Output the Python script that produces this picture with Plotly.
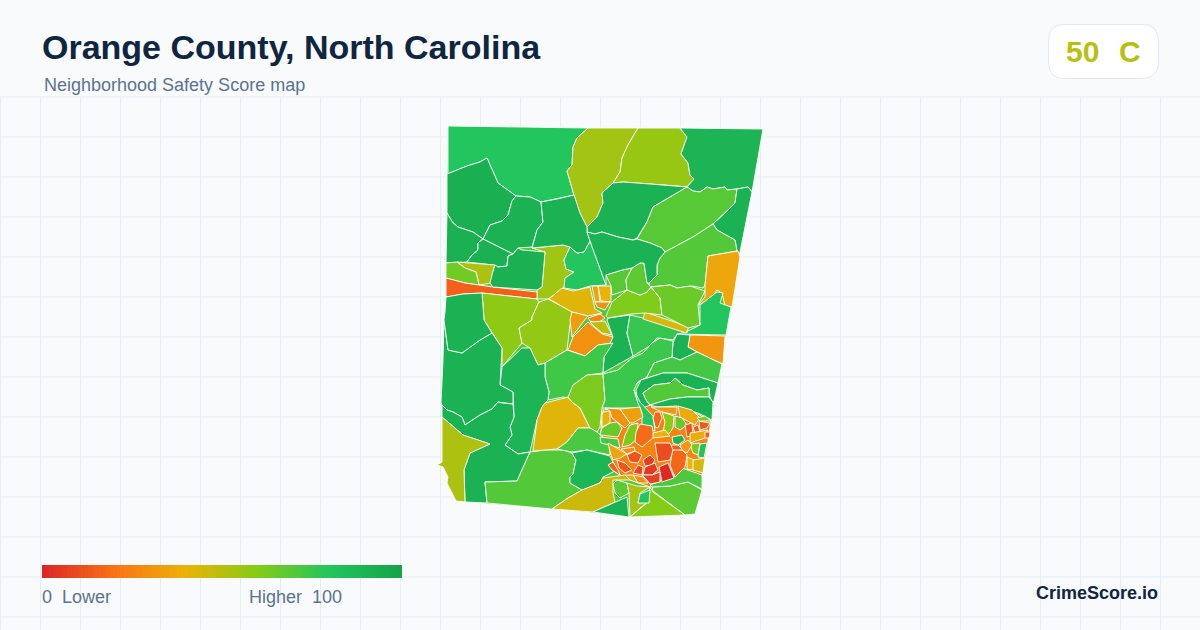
import plotly.graph_objects as go
from plotly.colors import sample_colorscale

TITLE = "Orange County, North Carolina"
SUBTITLE = "Neighborhood Safety Score map"
COUNTY_SCORE = 50
COUNTY_GRADE = "C"

SCALE_COLORS = ["#dc2626", "#f97316", "#eab308", "#84cc16", "#22c55e", "#16a34a"]
LEGEND_SCORES = list(range(0, 101))

# map units are the picture's own grid, y running down
COUNTY_OUTLINE = [
    (448, 126), (588, 128), (680, 128), (763, 129), (752, 192), (739, 257), (732, 307), (726, 336),
    (722, 364), (717, 383), (712, 420), (705, 460), (702, 475), (695, 514), (685, 515), (630, 517),
    (593, 513), (552, 509), (487, 504), (465, 502), (456, 501), (447, 483), (448, 477), (443, 467),
    (437, 465), (442, 462), (442, 417), (441, 402), (443, 360), (444, 320), (445, 312), (446, 278),
    (446, 263), (447, 213), (447, 174),
]
DOWNTOWN_OUTLINE = [
    (603, 410), (640, 405), (680, 405), (711, 421), (705, 460), (702, 476), (682, 468), (650, 487),
    (625, 478), (604, 465), (600, 440),
]

TRACT_SCORES = [
    70, 25,
    80, 54, 56, 90, 91, 69, 91, 70, 36, 80, 31, 91,
    93, 91, 92, 92, 55, 80, 91, 52, 64, 15, 92,
    58, 57, 42, 35, 40, 30, 33, 26, 49, 29, 91, 76, 44, 61, 65, 69, 68, 91,
    74, 90, 91, 91, 91, 52, 70, 42, 62, 72, 89, 46, 68, 91, 53, 60, 80, 68, 71,
    75, 73, 91, 70, 91, 80,
    41, 30, 34, 66, 62, 72, 18, 32, 37, 17, 59, 66, 12, 14, 14, 62, 38, 14, 62, 81,
    40, 44, 17, 40, 89, 14, 31, 10, 12, 13, 8, 6, 5, 1, 7, 36, 30, 28, 42, 15,
]
TRACT_OUTLINES = [
    COUNTY_OUTLINE,
    DOWNTOWN_OUTLINE,
    # north
    [(448, 126), (588, 128), (577, 138), (573, 147), (572, 165), (567, 171), (574, 195), (557, 199), (541, 202), (530, 197), (516, 196), (498, 183), (487, 158), (480, 162), (467, 166), (448, 174)],
    [(588, 128), (638, 128), (628, 145), (622, 158), (620, 172), (613, 183), (602, 193), (603, 203), (597, 217), (587, 227), (580, 213), (574, 195), (567, 171), (572, 165), (573, 147), (577, 138)],
    [(638, 128), (680, 128), (687, 137), (681, 154), (688, 163), (690, 175), (694, 179), (687, 187), (678, 186), (650, 184), (623, 182), (613, 183), (620, 172), (622, 158), (628, 145)],
    [(680, 128), (763, 129), (752, 192), (748, 187), (737, 189), (727, 190), (725, 187), (713, 189), (707, 187), (700, 192), (693, 191), (687, 187), (694, 179), (690, 175), (688, 163), (681, 154), (687, 137)],
    [(613, 183), (623, 182), (650, 184), (678, 186), (687, 187), (653, 207), (647, 222), (637, 238), (633, 240), (618, 237), (602, 232), (595, 234), (587, 232), (587, 227), (597, 217), (603, 203), (602, 193)],
    [(687, 187), (693, 191), (700, 192), (707, 187), (713, 189), (725, 187), (727, 190), (737, 189), (735, 203), (723, 215), (713, 224), (693, 237), (665, 252), (662, 248), (650, 243), (637, 239), (647, 222), (653, 207)],
    [(737, 189), (748, 187), (752, 192), (739, 257), (737, 251), (735, 240), (717, 230), (713, 224), (723, 215), (735, 203)],
    [(713, 224), (717, 230), (735, 240), (737, 251), (708, 256), (705, 285), (703, 288), (692, 286), (678, 288), (670, 285), (650, 287), (649, 283), (657, 275), (657, 265), (660, 258), (665, 252), (693, 237)],
    [(708, 256), (738, 251), (740, 257), (732, 307), (725, 306), (722, 293), (717, 290), (710, 300), (698, 305), (705, 297), (705, 285)],
    [(700, 305), (717, 292), (723, 293), (720, 303), (731, 307), (726, 335), (676, 334), (688, 331), (700, 325)],
    [(690, 335), (725, 336), (723, 364), (707, 357), (688, 347)],
    [(677, 334), (690, 335), (688, 347), (697, 352), (680, 360), (672, 357), (673, 343)],
    # north west
    [(447, 174), (467, 166), (480, 162), (487, 158), (498, 183), (516, 196), (512, 201), (508, 215), (502, 221), (490, 225), (483, 239), (473, 232), (458, 227), (453, 223), (447, 213)],
    [(516, 196), (530, 197), (541, 202), (543, 222), (537, 230), (532, 247), (518, 248), (513, 254), (483, 239), (490, 225), (502, 221), (508, 215), (512, 201)],
    [(447, 213), (453, 223), (458, 227), (473, 232), (483, 239), (478, 243), (478, 250), (472, 255), (467, 262), (446, 263)],
    [(483, 239), (513, 254), (508, 256), (507, 266), (498, 267), (493, 265), (467, 262), (472, 255), (478, 250), (478, 243)],
    [(532, 248), (563, 245), (570, 247), (564, 260), (566, 269), (574, 272), (565, 278), (564, 288), (548, 299), (537, 299), (537, 290), (542, 287), (545, 252)],
    [(570, 247), (577, 253), (584, 252), (590, 241), (606, 285), (590, 286), (577, 290), (564, 288), (565, 278), (574, 272), (566, 269), (564, 260)],
    [(541, 202), (557, 199), (574, 195), (580, 213), (587, 227), (587, 232), (590, 241), (584, 252), (577, 253), (570, 247), (563, 245), (532, 248), (537, 230), (543, 222)],
    [(457, 262), (495, 265), (492, 275), (492, 283), (479, 285), (476, 272), (465, 268)],
    [(446, 263), (457, 262), (465, 268), (476, 272), (479, 285), (465, 283), (446, 278)],
    [(446, 278), (465, 283), (479, 285), (493, 287), (537, 292), (537, 299), (482, 293), (463, 294), (446, 297)],
    [(495, 265), (498, 267), (507, 266), (508, 256), (513, 254), (518, 248), (522, 250), (545, 252), (542, 287), (537, 290), (493, 287), (490, 283), (492, 275)],
    # middle band
    [(482, 293), (537, 299), (539, 302), (532, 317), (532, 320), (519, 328), (522, 343), (502, 367), (502, 348), (492, 333), (484, 320)],
    [(539, 302), (548, 299), (573, 312), (570, 325), (567, 350), (545, 363), (538, 365), (530, 348), (522, 343), (519, 328), (532, 320), (532, 317)],
    [(549, 299), (562, 288), (573, 291), (590, 287), (595, 309), (602, 313), (588, 316), (572, 312)],
    [(592, 286), (598, 286), (600, 302), (595, 302)],
    [(598, 286), (611, 286), (611, 302), (601, 301)],
    [(595, 302), (610, 302), (605, 310), (597, 307)],
    [(572, 312), (588, 316), (583, 322), (572, 337), (570, 320)],
    [(588, 318), (600, 314), (605, 318), (598, 323), (590, 321)],
    [(590, 322), (605, 321), (612, 335), (602, 333), (595, 327)],
    [(588, 322), (595, 328), (602, 334), (613, 337), (613, 343), (598, 345), (585, 356), (568, 350), (573, 337)],
    [(608, 318), (630, 315), (627, 333), (633, 356), (603, 373), (604, 357), (613, 337), (607, 320)],
    [(630, 315), (643, 318), (688, 332), (677, 334), (673, 340), (657, 338), (648, 347), (633, 356), (627, 333)],
    [(645, 312), (689, 327), (686, 333), (643, 319)],
    [(612, 302), (627, 290), (640, 295), (647, 292), (651, 287), (660, 298), (662, 315), (645, 313), (631, 314), (608, 318), (606, 316)],
    [(651, 287), (660, 286), (670, 285), (677, 288), (690, 286), (705, 291), (698, 305), (700, 325), (688, 328), (662, 315), (660, 298)],
    [(606, 275), (622, 270), (632, 268), (626, 280), (627, 290), (612, 295), (611, 286)],
    [(632, 268), (640, 263), (644, 263), (647, 283), (651, 287), (647, 292), (640, 295), (627, 290), (626, 280)],
    [(590, 241), (587, 232), (595, 234), (602, 232), (618, 237), (633, 240), (637, 239), (650, 243), (662, 248), (665, 252), (660, 258), (657, 265), (657, 275), (649, 283), (647, 283), (644, 263), (640, 263), (632, 268), (622, 270), (606, 275), (606, 285)],
    # south
    [(545, 363), (567, 350), (585, 356), (598, 345), (613, 343), (604, 357), (603, 373), (587, 375), (573, 385), (570, 398), (563, 397), (548, 400), (549, 392), (545, 377)],
    [(502, 367), (522, 348), (530, 348), (538, 365), (545, 363), (545, 377), (549, 392), (548, 400), (542, 407), (537, 420), (530, 452), (518, 454), (505, 445), (512, 435), (510, 427), (514, 417), (513, 392), (500, 385)],
    [(444, 320), (448, 350), (462, 353), (480, 340), (492, 333), (502, 348), (500, 385), (513, 392), (513, 404), (502, 403), (498, 402), (492, 409), (480, 415), (465, 425), (462, 417), (453, 412), (447, 410), (442, 405), (441, 402), (443, 360)],
    [(446, 297), (463, 294), (482, 293), (484, 320), (492, 333), (480, 340), (462, 353), (448, 350), (444, 320), (445, 312)],
    [(442, 405), (447, 410), (453, 412), (462, 417), (465, 425), (480, 415), (492, 409), (498, 402), (502, 403), (513, 404), (514, 417), (510, 427), (512, 435), (505, 445), (518, 454), (530, 452), (517, 481), (485, 482), (487, 503), (465, 502), (464, 470), (470, 453), (490, 444), (463, 435), (442, 417)],
    [(442, 417), (463, 435), (490, 444), (470, 453), (464, 470), (465, 502), (456, 501), (447, 483), (448, 477), (443, 467), (437, 465), (442, 462)],
    [(485, 482), (517, 481), (530, 452), (545, 450), (563, 450), (572, 453), (576, 460), (573, 474), (570, 477), (570, 483), (582, 490), (568, 498), (552, 509), (487, 503)],
    [(545, 403), (568, 397), (572, 402), (580, 408), (590, 428), (578, 428), (567, 442), (557, 449), (533, 451), (537, 420), (542, 407)],
    [(587, 375), (603, 374), (605, 400), (602, 408), (600, 427), (597, 432), (590, 428), (580, 408), (572, 402), (568, 397), (573, 385)],
    [(578, 428), (590, 428), (597, 432), (610, 443), (610, 455), (587, 450), (572, 452), (557, 449), (567, 442)],
    [(572, 453), (587, 450), (610, 456), (617, 470), (603, 477), (600, 483), (582, 490), (570, 483), (570, 477), (573, 474), (576, 460)],
    [(552, 509), (568, 498), (582, 490), (600, 483), (603, 478), (625, 475), (630, 480), (617, 480), (613, 480), (613, 493), (615, 502), (593, 512)],
    [(617, 480), (627, 483), (629, 493), (620, 498), (615, 493), (613, 484)],
    [(593, 512), (615, 502), (627, 497), (629, 517)],
    [(627, 483), (637, 486), (650, 487), (640, 493), (638, 503), (647, 502), (630, 517), (629, 493)],
    [(650, 487), (653, 492), (685, 515), (630, 517), (647, 503), (650, 490)],
    [(640, 494), (650, 490), (649, 503), (638, 503)],
    [(652, 487), (670, 486), (688, 482), (702, 490), (695, 514), (685, 515), (653, 491)],
    [(650, 485), (668, 478), (682, 468), (702, 475), (702, 489), (688, 482), (670, 486), (652, 487)],
    # south east bands
    [(603, 374), (618, 370), (632, 358), (643, 353), (652, 343), (660, 338), (673, 341), (672, 357), (654, 363), (647, 377), (637, 383), (634, 390), (638, 403), (643, 408), (605, 408), (602, 408), (605, 400)],
    [(647, 377), (654, 363), (672, 357), (680, 360), (697, 352), (722, 364), (718, 383), (687, 373), (663, 373), (641, 380), (637, 383)],
    [(636, 390), (641, 380), (663, 373), (687, 373), (718, 383), (713, 405), (710, 397), (709, 388), (697, 390), (683, 385), (675, 378), (670, 383), (654, 385), (643, 393), (646, 400), (650, 405), (643, 408), (638, 403)],
    [(643, 393), (654, 385), (670, 383), (675, 378), (683, 385), (697, 390), (709, 388), (709, 397), (687, 397), (670, 399), (650, 405), (646, 400)],
    [(650, 405), (670, 399), (687, 397), (709, 397), (713, 402), (712, 420), (698, 413), (677, 406), (657, 407)],
    [(634, 390), (640, 402), (653, 416), (655, 431), (642, 425), (642, 413), (638, 403)],
    # downtown
    [(603, 412), (610, 411), (610, 423), (602, 427), (602, 415)],
    [(605, 408), (620, 409), (630, 423), (625, 428), (612, 418), (610, 411)],
    [(620, 409), (640, 407), (643, 417), (633, 423), (630, 423)],
    [(602, 428), (610, 423), (617, 422), (622, 428), (618, 437), (600, 435)],
    [(630, 425), (638, 423), (636, 440), (630, 445), (622, 447), (625, 435)],
    [(600, 437), (618, 439), (620, 448), (608, 445), (601, 443)],
    [(640, 424), (652, 426), (654, 437), (642, 447), (635, 442), (636, 432)],
    [(651, 407), (677, 407), (676, 415), (662, 412)],
    [(678, 406), (692, 410), (700, 418), (695, 425), (680, 417)],
    [(655, 412), (660, 412), (662, 418), (658, 428), (655, 427), (653, 418)],
    [(662, 412), (674, 416), (673, 428), (668, 435), (663, 432), (665, 422)],
    [(675, 416), (682, 418), (687, 425), (680, 430), (675, 427)],
    [(685, 425), (692, 423), (693, 435), (687, 437)],
    [(693, 427), (698, 425), (700, 432), (695, 433)],
    [(699, 421), (710, 423), (707, 428), (700, 430)],
    [(697, 418), (705, 416), (711, 421), (700, 421)],
    [(690, 433), (708, 430), (705, 438), (690, 443)],
    [(705, 432), (710, 432), (709, 438), (705, 438)],
    [(690, 444), (700, 443), (698, 455), (693, 453)],
    [(700, 444), (707, 443), (704, 458), (698, 457)],
    [(687, 457), (697, 461), (694, 470), (687, 469)],
    [(693, 460), (705, 458), (703, 473), (693, 470)],
    [(673, 448), (682, 450), (687, 455), (685, 467), (675, 477), (670, 465)],
    [(653, 433), (665, 430), (670, 436), (662, 437), (653, 438)],
    [(672, 437), (682, 435), (685, 440), (678, 445), (673, 443)],
    [(672, 445), (678, 445), (683, 450), (673, 450), (668, 448)],
    [(680, 445), (688, 440), (692, 445), (687, 453), (682, 450)],
    [(655, 443), (670, 443), (673, 450), (670, 460), (658, 462)],
    [(627, 455), (635, 451), (642, 455), (638, 463), (630, 462)],
    [(617, 460), (625, 463), (632, 470), (625, 473), (619, 468)],
    [(638, 465), (643, 467), (642, 475), (633, 473)],
    [(643, 460), (650, 455), (655, 460), (652, 465), (645, 466)],
    [(645, 467), (655, 463), (658, 470), (652, 475), (643, 475)],
    [(659, 467), (668, 463), (674, 478), (662, 482)],
    [(642, 475), (652, 475), (660, 472), (660, 482), (650, 484), (647, 480)],
    [(608, 443), (620, 450), (627, 454), (620, 458), (613, 460), (610, 452)],
    [(621, 449), (634, 447), (635, 451), (627, 454)],
    [(633, 475), (643, 477), (648, 483), (638, 483)],
    [(625, 475), (633, 475), (638, 483), (630, 480)],
    [(613, 462), (618, 470), (620, 475), (612, 470), (608, 465)],
]

GRID_XS = list(range(0, 1201, 40))
GRID_YS = list(range(97, 630, 40))


def score_color(score):
    return sample_colorscale(SCALE_COLORS, score / 100)[0]


fig = go.Figure()

for score, outline in zip(TRACT_SCORES, TRACT_OUTLINES, strict=True):
    xs = [p[0] for p in outline] + [outline[0][0]]
    ys = [p[1] for p in outline] + [outline[0][1]]
    fig.add_trace(
        go.Scatter(
            x=xs,
            y=ys,
            mode="lines",
            fill="toself",
            fillcolor=score_color(score),
            line=dict(color="#ffffff", width=0.9),
            text=f"Score {score}",
            hoverinfo="text",
            showlegend=False,
        )
    )

# gradient legend under the map, x holds the cell edges
fig.add_trace(
    go.Heatmap(
        z=[LEGEND_SCORES],
        x=[42 + 360 * i / len(LEGEND_SCORES) for i in range(len(LEGEND_SCORES) + 1)],
        y=[565, 578],
        zmin=0,
        zmax=100,
        colorscale=[[i / 5, c] for i, c in enumerate(SCALE_COLORS)],
        showscale=False,
        hoverinfo="skip",
    )
)

# background grid starts below the header
for x in GRID_XS:
    fig.add_shape(type="line", x0=x + 0.5, x1=x + 0.5, y0=97, y1=630, line=dict(color="#e4eef1", width=1), layer="below")
for y in GRID_YS:
    fig.add_shape(type="line", x0=0, x1=1200, y0=y, y1=y, line=dict(color="#e4eef1", width=1), layer="below")

# score badge
fig.add_shape(
    type="path",
    path="M 1064 24.5 L 1142 24.5 Q 1158.5 24.5 1158.5 41 L 1158.5 62 Q 1158.5 78.5 1142 78.5 "
    "L 1064 78.5 Q 1048.5 78.5 1048.5 62 L 1048.5 41 Q 1048.5 24.5 1064 24.5 Z",
    fillcolor="#ffffff",
    line=dict(color="#e2e8f0", width=1),
    layer="below",
)


def add_label(text, x, y, size, color, bold=False, anchor="left"):
    fig.add_annotation(
        text=f"<b>{text}</b>" if bold else text,
        x=x,
        y=y,
        xref="x",
        yref="y",
        xanchor=anchor,
        yanchor="middle",
        showarrow=False,
        borderpad=0,
        borderwidth=0,
        font=dict(family="Liberation Sans", size=size, color=color),
    )


add_label(TITLE, 42, 47, 34, "#0f2540", bold=True)
add_label(SUBTITLE, 44, 85, 18, "#5b7390")
add_label(str(COUNTY_SCORE), 1066, 51, 30, score_color(COUNTY_SCORE), bold=True)
add_label(COUNTY_GRADE, 1119, 51, 30, score_color(COUNTY_SCORE), bold=True)
add_label("0&nbsp;&nbsp;Lower", 42, 597, 18, "#5b7390")
add_label("Higher&nbsp;&nbsp;100", 249, 597, 18, "#5b7390")
add_label("CrimeScore.io", 1158, 593, 18, "#0f2540", bold=True, anchor="right")

fig.update_layout(
    width=1200,
    height=630,
    margin=dict(l=0, r=0, t=0, b=0),
    paper_bgcolor="#f8fafc",
    plot_bgcolor="#f8fafc",
    xaxis=dict(range=[0, 1200], visible=False, fixedrange=True),
    yaxis=dict(range=[630, 0], visible=False, fixedrange=True),
    showlegend=False,
)

fig.write_html(
    "out.html",
    config={"displayModeBar": False},
    post_script="document.body.style.margin = '0';",
)
